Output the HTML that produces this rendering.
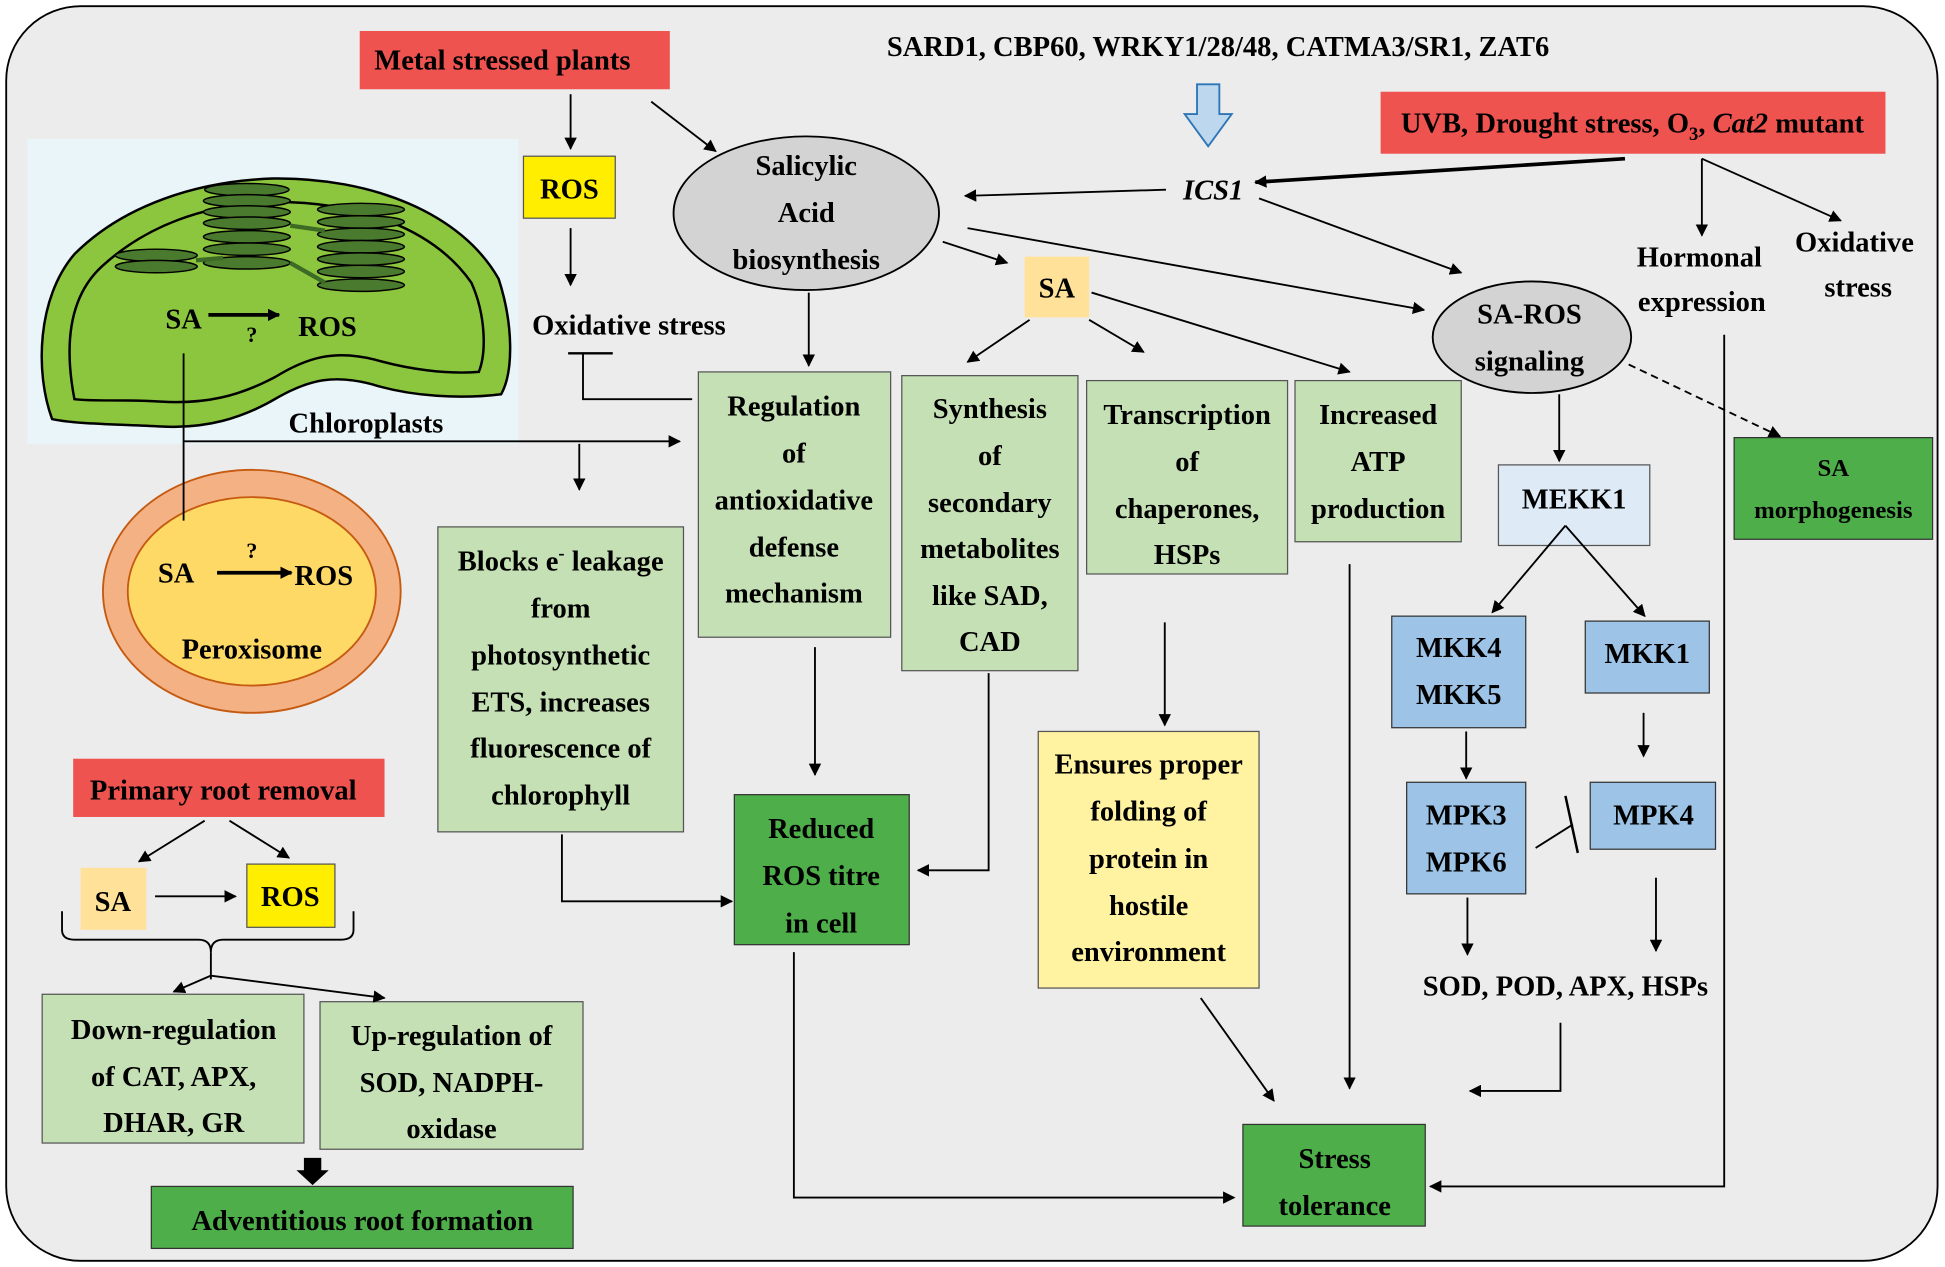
<!DOCTYPE html>
<html><head><meta charset="utf-8"><style>body{margin:0;background:#fff}svg{display:block}</style></head>
<body>
<svg width="1945" height="1267" viewBox="0 0 1568 1022" preserveAspectRatio="none" xmlns="http://www.w3.org/2000/svg" font-family="Liberation Serif, serif" font-weight="bold" font-size="23">
<defs>
<marker id="a" markerWidth="10" markerHeight="10" refX="9" refY="5" orient="auto" markerUnits="userSpaceOnUse"><path d="M0,0 L10,5 L0,10 z" fill="#000"/></marker>
</defs>
<rect x="5" y="5" width="1557" height="1012" rx="60" fill="#ececec" stroke="#000" stroke-width="1.5"/>
<!-- chloroplast panel -->
<rect x="22" y="112" width="396" height="246" fill="#e9f5f9"/>
<path d="M42,338 C28,300 30,240 60,205 C100,165 160,146 220,144 C300,143 372,172 402,225 C414,262 414,300 404,318 C372,322 332,320 300,310 C270,302 250,306 225,320 C195,338 165,346 130,344 C90,342 60,342 42,338 z" fill="#8cc63f" stroke="#000" stroke-width="2"/>
<path d="M60,322 C52,280 55,240 82,215 C118,182 165,165 218,163 C290,162 350,185 380,228 C392,255 392,285 386,300 C360,302 330,298 302,290 C270,282 248,288 222,304 C192,320 165,326 130,324 C100,322 75,324 60,322 z" fill="none" stroke="#000" stroke-width="2"/>
<g fill="#4a7a2e" stroke="#000" stroke-width="1.2">
<ellipse cx="199" cy="153" rx="34" ry="5"/><ellipse cx="199" cy="162" rx="35" ry="5"/><ellipse cx="199" cy="171" rx="35" ry="5"/><ellipse cx="199" cy="180" rx="35" ry="5"/><ellipse cx="199" cy="191" rx="35" ry="5"/><ellipse cx="199" cy="201" rx="35" ry="5"/><ellipse cx="199" cy="212" rx="35" ry="5"/>
<ellipse cx="291" cy="169" rx="35" ry="5"/><ellipse cx="291" cy="179" rx="35" ry="5"/><ellipse cx="291" cy="189" rx="35" ry="5"/><ellipse cx="291" cy="199" rx="35" ry="5"/><ellipse cx="291" cy="209" rx="35" ry="5"/><ellipse cx="291" cy="219" rx="35" ry="5"/><ellipse cx="291" cy="230" rx="35" ry="5"/>
<ellipse cx="126" cy="206" rx="33" ry="5"/><ellipse cx="126" cy="215" rx="33" ry="5"/>
</g>
<g stroke="#3d6b26" stroke-width="3.5"><line x1="158" y1="210" x2="180" y2="208"/><line x1="234" y1="182" x2="262" y2="186"/><line x1="234" y1="212" x2="262" y2="228"/></g>
<text x="148" y="265" text-anchor="middle">SA</text>
<line x1="168" y1="254" x2="225" y2="254" stroke="#000" stroke-width="3" marker-end="url(#a)"/>
<text x="203" y="276" font-size="18" text-anchor="middle">?</text>
<text x="264" y="271" text-anchor="middle">ROS</text>
<text x="295" y="349" text-anchor="middle">Chloroplasts</text>
<!-- peroxisome -->
<ellipse cx="203" cy="477" rx="120" ry="98" fill="#f4b183" stroke="#c55a11" stroke-width="1.5"/>
<ellipse cx="203" cy="477" rx="100" ry="76" fill="#ffd966" stroke="#c55a11" stroke-width="1.5"/>
<text x="142" y="470" text-anchor="middle">SA</text>
<line x1="175" y1="462" x2="235" y2="462" stroke="#000" stroke-width="3" marker-end="url(#a)"/>
<text x="203" y="450" font-size="18" text-anchor="middle">?</text>
<text x="261" y="472" text-anchor="middle">ROS</text>
<text x="203" y="531" text-anchor="middle">Peroxisome</text>
<line x1="148" y1="285" x2="148" y2="420" stroke="#000" stroke-width="1.5"/>
<line x1="148" y1="356" x2="548" y2="356" stroke="#000" stroke-width="1.5" marker-end="url(#a)"/>
<!-- top boxes -->
<rect x="290" y="25" width="250" height="47" fill="#ef5350"/>
<text x="405" y="56" text-anchor="middle">Metal stressed plants</text>
<text x="982" y="45" text-anchor="middle">SARD1, CBP60, WRKY1/28/48, CATMA3/SR1, ZAT6</text>
<path d="M965,68 H983 V92 H993 L974,118 L955,92 H965 z" fill="#bdd7ee" stroke="#2e75b6" stroke-width="1.5"/>
<rect x="1113" y="74" width="407" height="50" fill="#ef5350"/>
<text x="1316" y="107" text-anchor="middle">UVB, Drought stress, O<tspan font-size="15" dy="6">3</tspan><tspan dy="-6">, </tspan><tspan font-style="italic">Cat2</tspan> mutant</text>
<rect x="422" y="126" width="74" height="50" fill="#ffee00" stroke="#555" stroke-width="1"/>
<text x="459" y="160" text-anchor="middle">ROS</text>
<ellipse cx="650" cy="172" rx="107" ry="62" fill="#d3d3d3" stroke="#000" stroke-width="1.5"/>
<text x="650" y="141" text-anchor="middle">Salicylic</text>
<text x="650" y="179" text-anchor="middle">Acid</text>
<text x="650" y="217" text-anchor="middle">biosynthesis</text>
<text x="978" y="161" text-anchor="middle" font-style="italic">ICS1</text>
<rect x="826" y="207" width="52" height="49" fill="#ffe199"/>
<text x="852" y="240" text-anchor="middle">SA</text>
<text x="507" y="270" text-anchor="middle">Oxidative stress</text>
<text x="1370" y="215" text-anchor="middle">Hormonal</text>
<text x="1372" y="251" text-anchor="middle">expression</text>
<text x="1495" y="203" text-anchor="middle">Oxidative</text>
<text x="1498" y="239" text-anchor="middle">stress</text>
<ellipse cx="1235" cy="272" rx="80" ry="45" fill="#d3d3d3" stroke="#000" stroke-width="1.5"/>
<text x="1233" y="261" text-anchor="middle">SA-ROS</text>
<text x="1233" y="299" text-anchor="middle">signaling</text>
<!-- light green boxes -->
<g fill="#c5e0b4" stroke="#555" stroke-width="1">
<rect x="563" y="300" width="155" height="214"/>
<rect x="727" y="303" width="142" height="238"/>
<rect x="876" y="307" width="162" height="156"/>
<rect x="1044" y="307" width="134" height="130"/>
<rect x="353" y="425" width="198" height="246"/>
<rect x="34" y="802" width="211" height="120"/>
<rect x="258" y="808" width="212" height="119"/>
</g>
<g text-anchor="middle">
<text x="640" y="335">Regulation</text><text x="640" y="373">of</text><text x="640" y="411">antioxidative</text><text x="640" y="449">defense</text><text x="640" y="486">mechanism</text>
<text x="798" y="337">Synthesis</text><text x="798" y="375">of</text><text x="798" y="413">secondary</text><text x="798" y="450">metabolites</text><text x="798" y="488">like SAD,</text><text x="798" y="525">CAD</text>
<text x="957" y="342">Transcription</text><text x="957" y="380">of</text><text x="957" y="418">chaperones,</text><text x="957" y="455">HSPs</text>
<text x="1111" y="342">Increased</text><text x="1111" y="380">ATP</text><text x="1111" y="418">production</text>
<text x="452" y="460">Blocks e<tspan font-size="15" dy="-9">-</tspan><tspan dy="9"> leakage</tspan></text><text x="452" y="498">from</text><text x="452" y="536">photosynthetic</text><text x="452" y="574">ETS, increases</text><text x="452" y="611">fluorescence of</text><text x="452" y="649">chlorophyll</text>
<text x="140" y="838">Down-regulation</text><text x="140" y="876">of CAT, APX,</text><text x="140" y="913">DHAR, GR</text>
<text x="364" y="843">Up-regulation of</text><text x="364" y="881">SOD, NADPH-</text><text x="364" y="918">oxidase</text>
</g>
<!-- dark green -->
<g fill="#4eae4a" stroke="#333" stroke-width="1">
<rect x="1398" y="353" width="160" height="82"/>
<rect x="592" y="641" width="141" height="121"/>
<rect x="1002" y="907" width="147" height="82"/>
<rect x="122" y="957" width="340" height="50"/>
</g>
<g text-anchor="middle">
<text x="1478" y="384" font-size="20">SA</text><text x="1478" y="418" font-size="20">morphogenesis</text>
<text x="662" y="676">Reduced</text><text x="662" y="714">ROS titre</text><text x="662" y="752">in cell</text>
<text x="1076" y="942">Stress</text><text x="1076" y="980">tolerance</text>
<text x="292" y="992">Adventitious root formation</text>
</g>
<!-- blue boxes -->
<rect x="1208" y="375" width="122" height="65" fill="#deebf7" stroke="#555"/>
<text x="1269" y="410" text-anchor="middle">MEKK1</text>
<g fill="#9dc3e6" stroke="#333">
<rect x="1122" y="497" width="108" height="90"/><rect x="1278" y="501" width="100" height="58"/>
<rect x="1134" y="631" width="96" height="90"/><rect x="1282" y="631" width="101" height="54"/>
</g>
<g text-anchor="middle">
<text x="1176" y="530">MKK4</text><text x="1176" y="568">MKK5</text>
<text x="1328" y="535">MKK1</text>
<text x="1182" y="665">MPK3</text><text x="1182" y="703">MPK6</text>
<text x="1333" y="665">MPK4</text>
<text x="1262" y="803">SOD, POD, APX, HSPs</text>
</g>
<rect x="837" y="590" width="178" height="207" fill="#fff2a0" stroke="#555"/>
<g text-anchor="middle">
<text x="926" y="624">Ensures proper</text><text x="926" y="662">folding of</text><text x="926" y="700">protein in</text><text x="926" y="738">hostile</text><text x="926" y="775">environment</text>
</g>
<!-- root section -->
<rect x="59" y="612" width="251" height="47" fill="#ef5350"/>
<text x="180" y="645" text-anchor="middle">Primary root removal</text>
<rect x="65" y="700" width="53" height="50" fill="#ffe199"/>
<text x="91" y="735" text-anchor="middle">SA</text>
<rect x="199" y="697" width="71" height="51" fill="#ffee00" stroke="#555"/>
<text x="234" y="731" text-anchor="middle">ROS</text>
<path d="M50,735 V750 Q50,758 60,758 H160 Q170,758 170,768 Q170,758 180,758 H275 Q285,758 285,750 V735" fill="none" stroke="#000" stroke-width="1.5"/>
<g stroke="#000" stroke-width="1.5" fill="none" marker-end="url(#a)">
<line x1="165" y1="662" x2="112" y2="695"/>
<line x1="185" y1="662" x2="233" y2="692"/>
<line x1="125" y1="723" x2="190" y2="723"/>
<line x1="170" y1="787" x2="140" y2="800"/>
<line x1="170" y1="787" x2="310" y2="805"/>
<line x1="170" y1="768" x2="170" y2="790" marker-end="none"/>
<line x1="460" y1="76" x2="460" y2="120"/>
<line x1="525" y1="82" x2="577" y2="122"/>
<line x1="460" y1="184" x2="460" y2="230"/>
<line x1="940" y1="153" x2="778" y2="158"/>
<line x1="1310" y1="128" x2="1012" y2="147" stroke-width="3"/>
<line x1="1015" y1="160" x2="1178" y2="220"/>
<line x1="760" y1="195" x2="812" y2="212"/>
<line x1="780" y1="184" x2="1148" y2="250"/>
<line x1="652" y1="236" x2="652" y2="295"/>
<line x1="830" y1="258" x2="780" y2="292"/>
<line x1="878" y1="258" x2="922" y2="284"/>
<line x1="880" y1="236" x2="1088" y2="300"/>
<line x1="1372" y1="128" x2="1372" y2="190"/>
<line x1="1372" y1="128" x2="1484" y2="178"/>
<line x1="1257" y1="318" x2="1257" y2="372"/>
<line x1="1313" y1="294" x2="1435" y2="352" stroke-dasharray="6,4"/>
<line x1="1262" y1="424" x2="1203" y2="494"/>
<line x1="1262" y1="424" x2="1326" y2="497"/>
<line x1="1182" y1="590" x2="1182" y2="628"/>
<line x1="1325" y1="575" x2="1325" y2="610"/>
<line x1="1183" y1="724" x2="1183" y2="770"/>
<line x1="1335" y1="708" x2="1335" y2="767"/>
<line x1="467" y1="358" x2="467" y2="395"/>
<line x1="657" y1="522" x2="657" y2="625"/>
<polyline points="797,543 797,702 740,702"/>
<polyline points="453,673 453,727 590,727"/>
<line x1="939" y1="502" x2="939" y2="585"/>
<line x1="968" y1="805" x2="1027" y2="888"/>
<line x1="1088" y1="455" x2="1088" y2="878"/>
<polyline points="1258,825 1258,880 1185,880"/>
<polyline points="640,768 640,966 995,966"/>
<polyline points="1390,270 1390,957 1153,957"/>
</g>
<path d="M558,322 H470 V285" fill="none" stroke="#000" stroke-width="1.5"/>
<line x1="458" y1="285" x2="494" y2="285" stroke="#000" stroke-width="2"/>
<line x1="1238" y1="684" x2="1268" y2="665" stroke="#000" stroke-width="1.5"/>
<line x1="1262" y1="642" x2="1272" y2="688" stroke="#000" stroke-width="2"/>
<path d="M245,934 H259 V944 H265 L252,956 L239,944 H245 z" fill="#000"/>
</svg>
</body></html>
